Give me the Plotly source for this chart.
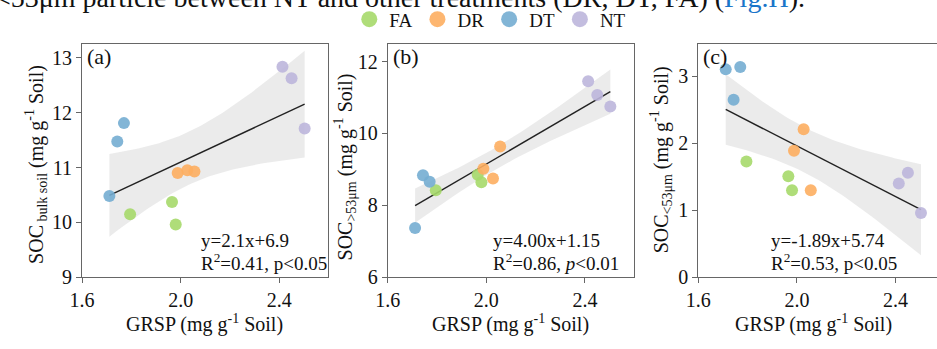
import numpy as np
import plotly.graph_objects as go

W, H = 937, 349

# GRSP (mg g-1 soil) for each treatment, three replicates
treatments = ["FA", "DR", "DT", "NT"]
colors = {"FA": "#a6d96a", "DR": "#fdae61", "DT": "#74add1", "NT": "#bcb6dc"}
grsp = {
    "FA": [1.795, 1.965, 1.980],
    "DR": [1.988, 2.027, 2.056],
    "DT": [1.711, 1.743, 1.770],
    "NT": [2.413, 2.450, 2.503],
}

# SOC of bulk soil
soc_bulk = {
    "FA": [10.15, 10.37, 9.96],
    "DR": [10.90, 10.95, 10.93],
    "DT": [10.48, 11.475, 11.81],
    "NT": [12.84, 12.63, 11.71],
}
# SOC in >53 um fraction
soc_gt53 = {
    "FA": [8.42, 8.85, 8.64],
    "DR": [9.02, 8.75, 9.64],
    "DT": [7.37, 8.84, 8.66],
    "NT": [11.45, 11.07, 10.75],
}
# SOC in <53 um fraction
soc_lt53 = {
    "FA": [1.73, 1.51, 1.30],
    "DR": [1.89, 2.21, 1.30],
    "DT": [3.105, 2.65, 3.14],
    "NT": [1.40, 1.56, 0.96],
}

# Fitted regression equations (slope, intercept) and statistics labels
fits = [(2.1, 6.9), (4.00, 1.15), (-1.89, 5.74)]
eq_text = ["y=2.1x+6.9", "y=4.00x+1.15", "y=-1.89x+5.74"]
stat_text = ["R<sup>2</sup>=0.41, p&lt;0.05",
             "R<sup>2</sup>=0.86, <i>p</i>&lt;0.01",
             "R<sup>2</sup>=0.53, p&lt;0.05"]
panel_tags = ["(a)", "(b)", "(c)"]
y_titles = ["SOC<sub> bulk soil</sub> (mg g<sup>-1</sup> Soil)",
            "SOC<sub>&gt;53μm</sub> (mg g<sup>-1</sup> Soil)",
            "SOC<sub>&lt;53μm</sub> (mg g<sup>-1</sup> Soil)"]
x_title = "GRSP (mg g<sup>-1</sup> Soil)"
y_ranges = [[9, 13.26], [6, 12.5], [0, 3.49]]
y_ticks = [[9, 10, 11, 12, 13], [6, 8, 10, 12], [0, 1, 2, 3]]
x_ticks = [1.6, 2.0, 2.4]

datasets = [soc_bulk, soc_gt53, soc_lt53]

FONT = "'Liberation Serif', 'Times New Roman', Times, serif"
INK = "#111111"

# panel geometry in pixels (left, right)
panels_px = [(70, 319), (380, 630), (695, 937)]
top_px, bot_px = 42.3, 285.7
px_per_unit = 250.0

def px(x):
    return x / W

def py(y):
    return 1 - y / H

fig = go.Figure()

T_CRIT = 2.228  # t(0.975, df=10)

for i, data in enumerate(datasets):
    xa = "x" if i == 0 else f"x{i+1}"
    ya = "y" if i == 0 else f"y{i+1}"
    xs = np.concatenate([grsp[t] for t in treatments])
    ys = np.concatenate([data[t] for t in treatments])
    n = len(xs)
    # 95% confidence band of the regression mean
    b1, b0 = np.polyfit(xs, ys, 1)
    resid = ys - (b1 * xs + b0)
    s = np.sqrt(np.sum(resid ** 2) / (n - 2))
    xbar = xs.mean()
    sxx = np.sum((xs - xbar) ** 2)
    xg = np.linspace(xs.min(), xs.max(), 60)
    slope, icpt = fits[i]
    yg = slope * xg + icpt
    half = T_CRIT * s * np.sqrt(1.0 / n + (xg - xbar) ** 2 / sxx)
    fig.add_trace(go.Scatter(
        x=np.concatenate([xg, xg[::-1]]),
        y=np.concatenate([yg + half, (yg - half)[::-1]]),
        fill="toself", fillcolor="rgba(225,225,225,0.65)",
        line=dict(width=0), mode="lines", hoverinfo="skip",
        showlegend=False, xaxis=xa, yaxis=ya))
    fig.add_trace(go.Scatter(
        x=xg, y=yg, mode="lines", line=dict(color="#222222", width=1.4),
        showlegend=False, xaxis=xa, yaxis=ya))
    for t in treatments:
        fig.add_trace(go.Scatter(
            x=grsp[t], y=data[t], mode="markers",
            marker=dict(color=colors[t], size=12, opacity=0.9, line=dict(width=0)),
            name=t, showlegend=False, xaxis=xa, yaxis=ya))

# legend entries
for t in treatments:
    fig.add_trace(go.Scatter(
        x=[None], y=[None], mode="markers",
        marker=dict(color=colors[t], size=16, opacity=0.9),
        name=t, showlegend=True))

layout = dict(
    width=W, height=H,
    margin=dict(l=0, r=0, t=0, b=0),
    paper_bgcolor="white", plot_bgcolor="white",
    font=dict(family=FONT, size=20, color=INK),
    showlegend=True,
    legend=dict(orientation="h", x=px(484), xanchor="center",
                y=py(17), yanchor="middle",
                font=dict(family=FONT, size=19, color=INK),
                itemwidth=30, tracegroupgap=0),
)

annotations = []
for i, (l, r) in enumerate(panels_px):
    sfx = "" if i == 0 else str(i + 1)
    x_hi = 1.6 + (r - l) / px_per_unit
    layout["xaxis" + sfx] = dict(
        domain=[px(l), min(px(r), 1.0)], range=[1.6, x_hi],
        anchor="y" + sfx, tickvals=x_ticks, ticktext=["1.6", "2.0", "2.4"],
        ticks="outside", ticklen=5, tickcolor="#666666",
        showline=True, linecolor="#666666", linewidth=1, mirror=True,
        showgrid=False, zeroline=False,
        tickfont=dict(family=FONT, size=20, color=INK))
    layout["yaxis" + sfx] = dict(
        domain=[py(bot_px), py(top_px)], range=y_ranges[i],
        anchor="x" + sfx, tickvals=y_ticks[i],
        ticks="outside", ticklen=5, tickcolor="#666666",
        showline=True, linecolor="#666666", linewidth=1,
        mirror=(i < 2), showgrid=False, zeroline=False,
        tickfont=dict(family=FONT, size=20, color=INK))

    # panel tag
    annotations.append(dict(text=panel_tags[i], xref="paper", yref="paper",
                            x=px(l + 3), y=py(56), xanchor="left", yanchor="middle",
                            showarrow=False, font=dict(family=FONT, size=22, color=INK)))
    # equation and statistics
    eq_left = [189, 485, 767][i]
    annotations.append(dict(text=eq_text[i], xref="paper", yref="paper",
                            x=px(eq_left), y=py(247), xanchor="left", yanchor="middle",
                            showarrow=False, font=dict(family=FONT, size=19, color=INK)))
    annotations.append(dict(text=stat_text[i], xref="paper", yref="paper",
                            x=px(eq_left), y=py(270), xanchor="left", yanchor="middle",
                            showarrow=False, font=dict(family=FONT, size=19, color=INK)))
    # x title
    annotations.append(dict(text=x_title, xref="paper", yref="paper",
                            x=px([194, 505, 812][i]), y=py(334), xanchor="center", yanchor="middle",
                            showarrow=False, font=dict(family=FONT, size=20, color=INK)))
    # y title
    annotations.append(dict(text=y_titles[i], xref="paper", yref="paper",
                            x=px([24, 337, 658][i]), y=py([168, 171, 163][i]),
                            xanchor="center", yanchor="middle", textangle=-90,
                            showarrow=False, font=dict(family=FONT, size=20, color=INK)))

# running text line above the figure
annotations.append(dict(
    text="&lt;53μm particle between NT and other treatments (DR, DT, FA) "
         "(<span style='color:#1a75c9'>Fig.H</span>).",
    xref="paper", yref="paper", x=px(-20), y=py(13), xanchor="left", yanchor="bottom",
    showarrow=False, font=dict(family=FONT, size=28, color=INK)))

layout["annotations"] = annotations
fig.update_layout(**layout)
fig.write_html("out.html")
